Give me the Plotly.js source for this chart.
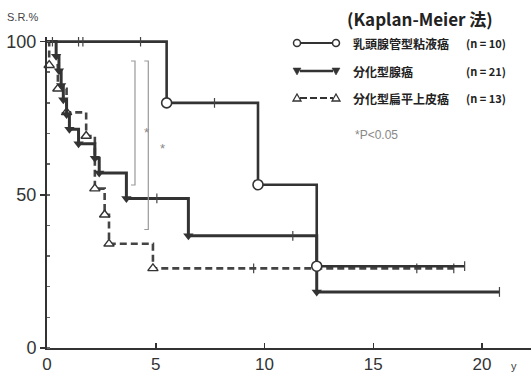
<!DOCTYPE html>
<html><head><meta charset="utf-8">
<script src="https://cdn.plot.ly/plotly-3.0.1.min.js"></script>
<style>html,body{margin:0;padding:0;background:#fff;}#chart{width:531px;height:377px;}</style>
</head><body><div id="chart"></div>
<script>
// ---- data ----
const papName = "乳頭腺管型粘液癌";
const papN = "(n=10)";
const papTime = [0, 5.5, 9.7, 12.4, 19.2];
const papSurv = [100, 80, 53.3, 26.7, 26.7];
const papCensorTime = [0.25, 1.45, 1.65, 4.3, 7.7, 19.2];

const adenoName = "分化型腺癌";
const adenoN = "(n=21)";
const adenoTime = [0, 0.42, 0.55, 0.65, 0.75, 0.9, 1.03, 1.45, 2.2, 2.4, 3.65, 6.5, 12.4, 20.8];
const adenoSurv = [100, 95.2, 90.5, 85.7, 81.0, 76.2, 71.4, 66.7, 61.9, 57.1, 48.8, 36.6, 18.3, 18.3];
const adenoCensorTime = [5.05, 11.3, 20.8];

const sqName = "分化型扁平上皮癌";
const sqN = "(n=13)";
const sqTime = [0, 0.1, 0.5, 0.9, 1.8, 2.2, 2.65, 2.85, 4.87, 18.7];
const sqSurv = [100, 92.3, 84.6, 76.9, 69.2, 52.0, 43.5, 34.0, 26.0, 26.0];
const sqCensorTime = [9.5, 17.0, 18.7];

const xTicks = [0, 5, 10, 15, 20];
const yTicks = [0, 50, 100];

// ---- helpers ----
function survAt(times, surv, t) {
  let s = surv[0];
  for (let i = 0; i < times.length; i++) { if (times[i] <= t) s = surv[i]; }
  return s;
}
const ink = '#333';
const W = 531, H = 377, ML = 47, MR = 0, MT = 37, MB = 29;
const PW = W - ML - MR, PH = H - MT - MB;
const px = x => (x - ML) / PW;
const py = y => (H - MB - y) / PH;

function curve(times, surv, censor, lineStyle, markerStyle) {
  const tr = [];
  tr.push({x: times, y: surv, mode: 'lines', line: Object.assign({shape: 'hv', color: ink}, lineStyle), hoverinfo: 'skip'});
  tr.push({x: times.slice(1, -1), y: surv.slice(1, -1), mode: 'markers', marker: markerStyle, hoverinfo: 'skip', cliponaxis: false});
  tr.push({x: censor, y: censor.map(t => survAt(times, surv, t)), mode: 'markers',
           marker: {symbol: 'line-ns-open', size: 7, color: '#444', line: {width: 1.2, color: '#444'}}, hoverinfo: 'skip'});
  return tr;
}

const traces = [].concat(
  curve(sqTime, sqSurv, sqCensorTime, {width: 2.6, dash: '7px,4px', color: '#444'},
        {symbol: 'triangle-up', size: 9, color: '#fff', line: {width: 1.4, color: ink}}),
  curve(adenoTime, adenoSurv, adenoCensorTime, {width: 3},
        {symbol: 'triangle-down', size: 9, color: ink, line: {width: 0}}),
  curve(papTime, papSurv, papCensorTime, {width: 2.6},
        {symbol: 'circle', size: 10, color: '#fff', line: {width: 1.6, color: ink}})
);

// ---- legend / decorations (pixel positions converted to paper) ----
const shapes = [];
const annotations = [];
const rows = [
  {y: 43, name: papName, n: papN, sym: 'circle'},
  {y: 71, name: adenoName, n: adenoN, sym: 'tdown'},
  {y: 98, name: sqName, n: sqN, sym: 'tup'}
];
rows.forEach(r => {
  shapes.push({type: 'line', xref: 'paper', yref: 'paper', x0: px(300), x1: px(333), y0: py(r.y), y1: py(r.y),
               line: {color: ink, width: r.sym === 'tdown' ? 2.5 : 2, dash: r.sym === 'tup' ? '7px,3px' : 'solid'}});
  [297, 336].forEach(cx => {
    if (r.sym === 'circle') {
      shapes.push({type: 'circle', xref: 'paper', yref: 'paper', x0: px(cx - 3.5), x1: px(cx + 3.5), y0: py(r.y - 3.5), y1: py(r.y + 3.5),
                   line: {color: ink, width: 1.5}, fillcolor: '#fff'});
    } else {
      const up = r.sym === 'tup';
      const a = [[cx - 4, up ? r.y + 3 : r.y - 3], [cx + 4, up ? r.y + 3 : r.y - 3], [cx, up ? r.y - 4 : r.y + 4]];
      const path = 'M' + a.map(p => px(p[0]) + ',' + py(p[1])).join('L') + 'Z';
      shapes.push({type: 'path', xref: 'paper', yref: 'paper', path: path,
                   line: {color: ink, width: up ? 1.3 : 0.5}, fillcolor: up ? '#fff' : ink});
    }
  });
  annotations.push({xref: 'paper', yref: 'paper', x: px(351), y: py(r.y), xanchor: 'left', yanchor: 'middle', showarrow: false,
                    text: '<b>' + r.name + '</b>', font: {family: 'Noto Sans CJK JP', size: 12, color: '#222'}});
  annotations.push({xref: 'paper', yref: 'paper', x: px(508), y: py(r.y), xanchor: 'right', yanchor: 'middle', showarrow: false,
                    text: '<b>' + r.n.replace('=', ' = ') + '</b>', font: {family: 'Noto Sans CJK JP', size: 11, color: '#222'}});
});
annotations.push({xref: 'paper', yref: 'paper', x: px(420), y: py(19), xanchor: 'center', yanchor: 'middle', showarrow: false,
                  text: '<b>(Kaplan-Meier 法)</b>', font: {family: 'Noto Sans CJK JP', size: 17, color: '#222'}});
annotations.push({xref: 'paper', yref: 'paper', x: px(353), y: py(135), xanchor: 'left', yanchor: 'middle', showarrow: false,
                  text: '*P&lt;0.05', font: {family: 'Liberation Sans', size: 12, color: '#888'}});
annotations.push({xref: 'paper', yref: 'paper', x: px(5), y: py(17), xanchor: 'left', yanchor: 'middle', showarrow: false,
                  text: 'S.R.%', font: {family: 'Liberation Sans Narrow, Liberation Sans', size: 11, color: '#444'}});
annotations.push({xref: 'paper', yref: 'paper', x: px(509), y: py(366), xanchor: 'left', yanchor: 'middle', showarrow: false,
                  text: 'y', font: {family: 'Liberation Sans', size: 11, color: '#444'}});

// significance brackets
[[135, 61, 185], [148.3, 61, 229.5]].forEach(b => {
  shapes.push({type: 'path', xref: 'paper', yref: 'paper',
    path: 'M' + px(b[0] - 4) + ',' + py(b[1]) + 'L' + px(b[0]) + ',' + py(b[1]) + 'L' + px(b[0]) + ',' + py(b[2]) + 'L' + px(b[0] - 4) + ',' + py(b[2]),
    line: {color: '#999', width: 1.2}});
});
annotations.push({xref: 'paper', yref: 'paper', x: px(142), y: py(123), showarrow: false, text: '*', font: {size: 13, color: '#888', family: 'Liberation Sans'}});
annotations.push({xref: 'paper', yref: 'paper', x: px(158), y: py(148), showarrow: false, text: '*', font: {size: 13, color: '#888', family: 'Liberation Sans'}});

const tickFont = {family: 'Liberation Sans Narrow, Liberation Sans', size: 17, color: ink};
const layout = {
  width: W, height: H,
  margin: {l: ML, r: MR, t: MT, b: MB, pad: 0},
  paper_bgcolor: '#fff', plot_bgcolor: '#fff',
  showlegend: false,
  xaxis: {range: [0, 22.25], tickvals: xTicks, ticks: 'inside', ticklen: 5, tickwidth: 1.5, tickcolor: ink,
          showline: true, linewidth: 2, linecolor: ink, showgrid: false, zeroline: false, tickfont: tickFont, fixedrange: true},
  yaxis: {range: [0, 101.5], tickvals: yTicks, ticks: 'outside', ticklen: 5, tickwidth: 1.5, tickcolor: ink,
          showline: true, linewidth: 2, linecolor: ink, showgrid: false, zeroline: false,
          tickfont: {family: tickFont.family, size: 18, color: ink}, fixedrange: true,
          minor: {dtick: 10, ticks: 'inside', ticklen: 3, tickcolor: '#666', showgrid: false}},
  shapes: shapes,
  annotations: annotations
};
Plotly.newPlot('chart', traces, layout, {displayModeBar: false, staticPlot: true});
</script>
</body></html>
